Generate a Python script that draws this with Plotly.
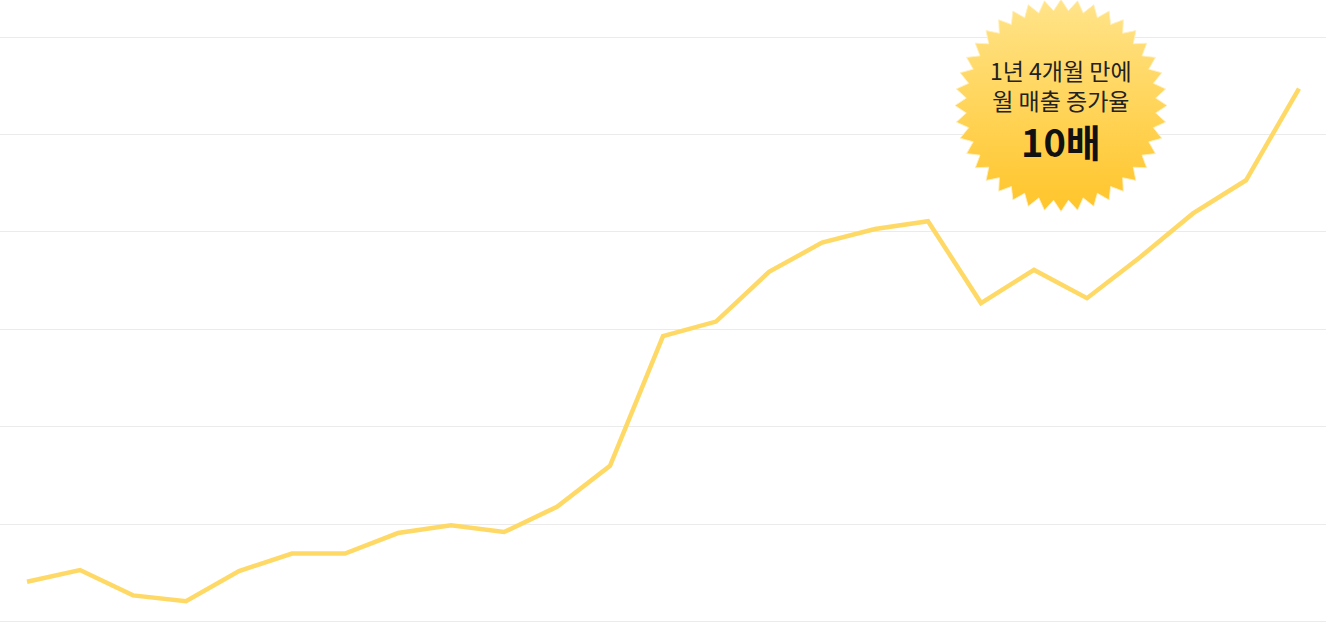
import numpy as np
import plotly.graph_objects as go

# ---- data ----
months = list(range(25))
sales = [0.41, 0.53, 0.27, 0.21, 0.52, 0.70, 0.70, 0.91, 0.99, 0.92,
         1.18, 1.60, 2.93, 3.08, 3.59, 3.89, 4.03, 4.11, 3.27, 3.61,
         3.32, 3.74, 4.19, 4.53, 5.47]
badge_lines = ["1년 4개월 만에", "월 매출 증가율"]
badge_big = "10배"

W, H = 1326, 623
LINE = "#FFD966"
GRID = "#EBEBEB"

fig = go.Figure()
fig.add_trace(go.Scatter(
    x=months, y=sales, mode="lines",
    line=dict(color=LINE, width=4.5),
    hoverinfo="skip", showlegend=False))

# ---- starburst badge (decoration, in pixel space on overlay axes) ----
cx, cy, R, r, n = 1061, 105.5, 106, 95, 40
ang = np.linspace(-np.pi / 2, 3 * np.pi / 2, 2 * n + 1)
rad = np.where(np.arange(2 * n + 1) % 2 == 0, R, r)
bx = cx + rad * np.cos(ang)
by = cy + rad * np.sin(ang)
fig.add_trace(go.Scatter(
    x=bx, y=by, xaxis="x2", yaxis="y2", mode="lines",
    fill="toself",
    fillgradient=dict(type="vertical",
                      colorscale=[[0, "#FFC52A"], [1, "#FFE48A"]]),
    line=dict(color="rgba(255,240,190,0.9)", width=1),
    hoverinfo="skip", showlegend=False))

TXT = "Noto Sans CJK KR"
fig.add_annotation(x=cx, y=85, xref="x2", yref="y2",
                   text="<br>".join(badge_lines),
                   showarrow=False, align="center",
                   font=dict(family=TXT, size=23, color="#222222"))
fig.add_annotation(x=cx, y=140, xref="x2", yref="y2", text="<b>" + badge_big + "</b>",
                   showarrow=False, font=dict(family=TXT, size=38, color="#111111"))

fig.update_layout(
    width=W, height=H,
    margin=dict(l=0, r=0, t=0, b=0),
    paper_bgcolor="white", plot_bgcolor="white",
    xaxis=dict(range=[-27 / 53, 24 + 27 / 53], visible=False, fixedrange=True),
    yaxis=dict(range=[-0.0133, 6.38], dtick=1, tick0=0, showgrid=True,
               gridcolor=GRID, gridwidth=1, zeroline=False,
               showticklabels=False, ticks="", showline=False, fixedrange=True),
    xaxis2=dict(range=[0, W], overlaying="x", visible=False, fixedrange=True),
    yaxis2=dict(range=[H, 0], overlaying="y", visible=False, fixedrange=True),
)

fig.write_html("out.html", config={"displayModeBar": False},
               post_script="document.body.style.margin='0';")
